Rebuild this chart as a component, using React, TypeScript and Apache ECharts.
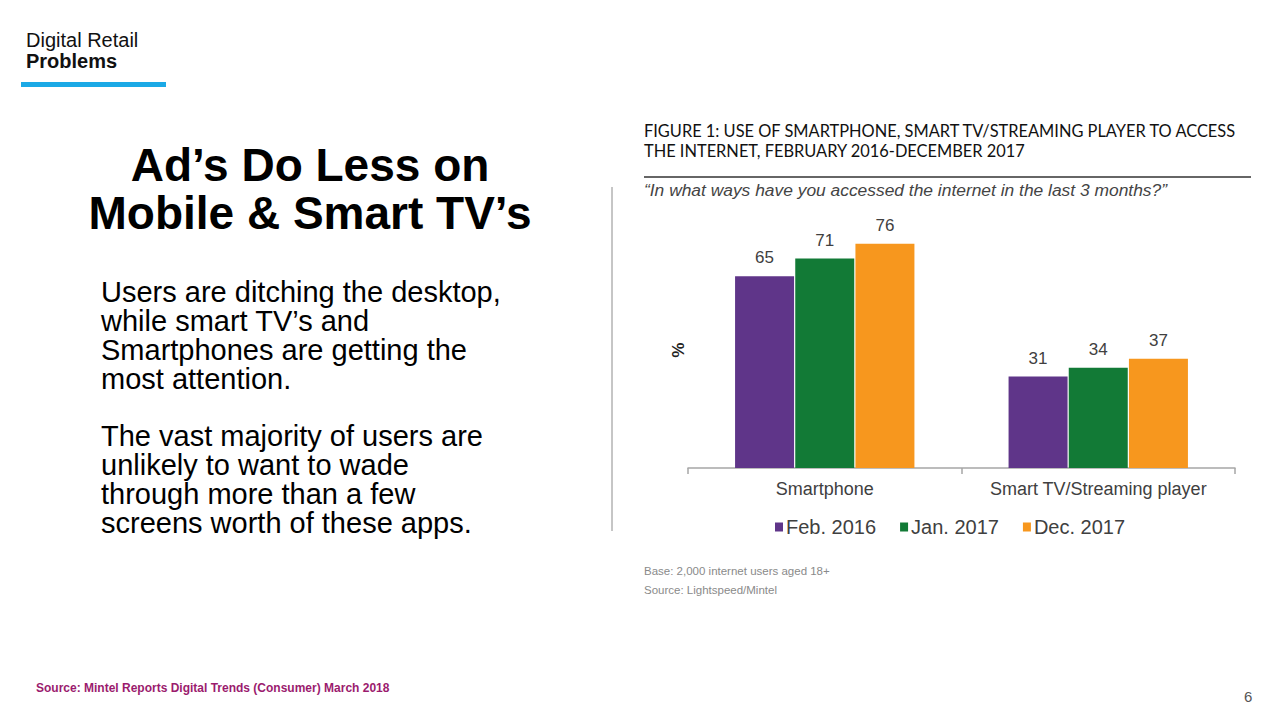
import React, { useEffect, useRef } from "react";
import * as echarts from "echarts";

const categories = ["Smartphone", "Smart TV/Streaming player"];
const seriesNames = ["Feb. 2016", "Jan. 2017", "Dec. 2017"];
const feb2016 = [65, 31];
const jan2017 = [71, 34];
const dec2017 = [76, 37];
const colors = ["#5F3589", "#127A36", "#F7971E"];

export default function App() {
  const ref = useRef<HTMLDivElement>(null);
  useEffect(() => {
    if (!ref.current) return;
    const chart = echarts.init(ref.current, null, { renderer: "svg" });
    const values = [feb2016, jan2017, dec2017];
    const sans = "Liberation Sans, Arial, Helvetica, sans-serif";
    chart.setOption({
      animation: false,
      backgroundColor: "#ffffff",
      grid: { left: 688, right: 45, top: 173, bottom: 252, containLabel: false },
      xAxis: {
        type: "category",
        data: categories,
        axisLine: { lineStyle: { color: "#a6a6a6", width: 1.5 } },
        axisTick: { show: true, length: 6, lineStyle: { color: "#a6a6a6", width: 1.5 } },
        axisLabel: { interval: 0, color: "#404040", fontSize: 18, fontFamily: sans, margin: 12 },
      },
      yAxis: {
        type: "value",
        min: 0,
        max: 100,
        show: false,
        splitLine: { show: false },
      },
      legend: {
        data: seriesNames,
        left: 770,
        top: 512,
        icon: "rect",
        itemWidth: 8,
        itemHeight: 9,
        itemGap: 24,
        textStyle: { color: "#404040", fontSize: 20, fontFamily: sans, padding: [0, 0, 0, -2] },
      },
      series: seriesNames.map((name, i) => ({
        name,
        type: "bar",
        data: values[i],
        barWidth: 59,
        barGap: "2%",
        itemStyle: { color: colors[i] },
        label: {
          show: true,
          position: "top",
          distance: 10,
          color: "#404040",
          fontSize: 17,
          fontFamily: sans,
        },
      })),
      graphic: [
        { type: "text", left: 26, top: 30, style: { text: "Digital Retail", font: `20px ${sans}`, fill: "#111" } },
        { type: "text", left: 26, top: 51, style: { text: "Problems", font: `bold 20px ${sans}`, fill: "#111" } },
        { type: "rect", shape: { x: 21, y: 82, width: 145, height: 5 }, style: { fill: "#1BA9E6" } },
        {
          type: "text",
          x: 310,
          y: 141,
          style: {
            text: "Ad’s Do Less on\nMobile & Smart TV’s",
            font: `bold 46px ${sans}`,
            fill: "#000",
            align: "center",
            lineHeight: 48,
          },
        },
        {
          type: "text",
          x: 101,
          y: 277,
          style: {
            text: "Users are ditching the desktop,\nwhile smart TV’s and\nSmartphones are getting the\nmost attention.",
            font: `29px ${sans}`,
            fill: "#000",
            lineHeight: 29,
          },
        },
        {
          type: "text",
          x: 101,
          y: 421,
          style: {
            text: "The vast majority of users are\nunlikely to want to wade\nthrough more than a few\nscreens worth of these apps.",
            font: `29px ${sans}`,
            fill: "#000",
            lineHeight: 29,
          },
        },
        { type: "line", shape: { x1: 612, y1: 187, x2: 612, y2: 531 }, style: { stroke: "#8c8c8c", lineWidth: 1 } },
        {
          type: "text",
          x: 644,
          y: 120,
          style: {
            text: "FIGURE 1: USE OF SMARTPHONE, SMART TV/STREAMING PLAYER TO ACCESS\nTHE INTERNET, FEBRUARY 2016-DECEMBER 2017",
            font: `16.4px Lato, sans-serif`,
            fill: "#111",
            lineHeight: 20,
          },
        },
        { type: "line", shape: { x1: 644, y1: 177, x2: 1251, y2: 177 }, style: { stroke: "#333", lineWidth: 1.5 } },
        {
          type: "text",
          x: 644,
          y: 181,
          style: {
            text: "“In what ways have you accessed the internet in the last 3 months?”",
            font: `italic 17.4px ${sans}`,
            fill: "#444",
          },
        },
        {
          type: "text",
          x: 677,
          y: 350,
          rotation: -Math.PI / 2,
          style: { text: "%", font: `bold 17px ${sans}`, fill: "#222", align: "center", verticalAlign: "middle" },
        },
        { type: "text", x: 644, y: 565, style: { text: "Base: 2,000 internet users aged 18+", font: `11.5px ${sans}`, fill: "#8a8a8a" } },
        { type: "text", x: 644, y: 584, style: { text: "Source: Lightspeed/Mintel", font: `11.5px ${sans}`, fill: "#8a8a8a" } },
        {
          type: "text",
          x: 36,
          y: 682,
          style: { text: "Source: Mintel Reports Digital Trends (Consumer) March 2018", font: `bold 12px ${sans}`, fill: "#9B1B6E" },
        },
        { type: "text", x: 1244, y: 689, style: { text: "6", font: `15px ${sans}`, fill: "#555" } },
      ],
    });
    return () => chart.dispose();
  }, []);
  return <div ref={ref} style={{ position: "fixed", left: 0, top: 0, width: 1280, height: 720 }} />;
}
